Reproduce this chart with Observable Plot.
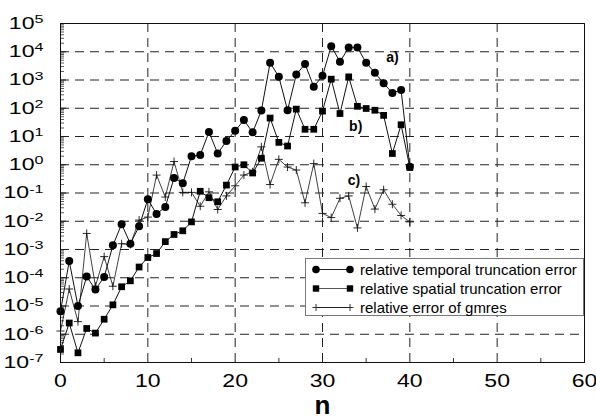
<!DOCTYPE html>
<html>
<head>
<meta charset="utf-8">
<script src="https://cdn.jsdelivr.net/npm/d3@7"></script>
<script src="https://cdn.jsdelivr.net/npm/@observablehq/plot@0.6"></script>
<style>
  body { margin: 0; background: #fff; }
  #wrap { position: relative; width: 596px; height: 419px; font-family: "Liberation Sans", Arial, sans-serif; }
  #legend { position: absolute; left: 305px; top: 258px; width: 279px; height: 58px; background: #fff;
            border: 1px solid #777; box-sizing: border-box; }
  .row { position: absolute; left: 0; height: 19px; display: flex; align-items: center; }
  .row svg { margin-left: 6px; }
  .row span { margin-left: 6px; font-size: 15px; color: #000; white-space: nowrap; }
</style>
</head>
<body>
<div id="wrap">
  <div id="chart"></div>
  <div id="legend"></div>
</div>
<script>
// iteration index
const n = [0,1,2,3,4,5,6,7,8,9,10,11,12,13,14,15,16,17,18,19,20,
           21,22,23,24,25,26,27,28,29,30,31,32,33,34,35,36,37,38,39,40];

// relative temporal truncation error
const temporal = [6.5e-6, 3.9e-4, 1.0e-5, 1.1e-4, 3.8e-5, 1.07e-4, 1.4e-3, 7.9e-3, 1.6e-3, 6.6e-3,
                  0.06, 0.018, 0.032, 0.34, 0.22, 2.0, 2.2, 14.5, 2.5, 6.9,
                  16, 38, 14, 83, 4100, 1300, 85, 1550, 3700, 575,
                  1400, 15800, 4400, 14000, 14000, 4100, 1800, 760, 350, 440, 0.85];

// relative spatial truncation error
const spatial = [2.9e-7, 2.5e-6, 2.2e-7, 1.6e-6, 1.1e-6, 3.4e-6, 1.1e-5, 4.8e-5, 7.8e-5, 2.4e-4,
                 5.2e-4, 7.2e-4, 1.9e-3, 3.4e-3, 4.6e-3, 9.5e-3, 0.115, 0.068, 0.049, 0.19,
                 0.83, 1.0, 0.51, 1.7, 45, 6.2, 4.6, 93, 18, 18,
                 79, 1070, 65, 1290, 117, 98, 85, 56, 2.5, 26, 0.8];

// relative error of gmres
const gmres = [1.3e-6, 4e-5, 2.8e-6, 3.7e-3, 5e-5, 5.6e-4, 5e-5, 1.6e-3, 1.5e-3, 0.011,
               0.014, 0.43, 0.072, 1.3, 0.105, 0.105, 0.034, 0.11, 0.026, 0.079,
               0.18, 0.43, 0.56, 4.3, 0.2, 1.55, 0.83, 0.65, 0.045, 1.1,
               0.019, 0.0135, 0.065, 0.079, 0.0058, 0.17, 0.027, 0.13, 0.04, 0.016, 0.0095];

const seriesNames = ["relative temporal truncation error", "relative spatial truncation error", "relative error of gmres"];

// axis ticks
const xTicks = [0, 10, 20, 30, 40, 50, 60];
const xGrid = [10, 20, 30, 40, 50];
const xMinor = [5, 15, 25, 35, 45, 55];
const yDecades = [1e-7, 1e-6, 1e-5, 1e-4, 1e-3, 1e-2, 1e-1, 1e0, 1e1, 1e2, 1e3, 1e4, 1e5];
const yGrid = [1e-6, 1e-5, 1e-4, 1e-3, 1e-2, 1e-1, 1e0, 1e1, 1e2, 1e3, 1e4];
const yMinor = yDecades.slice(0, -1).flatMap(d => [2,3,4,5,6,7,8,9].map(k => k * d));

const rows = n.map((k, i) => ({n: k, temporal: temporal[i], spatial: spatial[i], gmres: gmres[i]}));

// thin "+" marker drawn with strokes
const crossSymbol = {
  draw(ctx, size) {
    const r = Math.sqrt(size / Math.PI);
    ctx.moveTo(-r, 0); ctx.lineTo(r, 0);
    ctx.moveTo(0, -r); ctx.lineTo(0, r);
  }
};

const W = 596, H = 419, mL = 60, mR = 12, mT = 23, mB = 57;
const innerW = W - mL - mR, innerH = H - mT - mB;
const dash = "9,6";

const svg = Plot.plot({
  width: W, height: H,
  marginLeft: mL, marginRight: mR, marginTop: mT, marginBottom: mB,
  style: {fontFamily: '"Liberation Sans", Arial, sans-serif', background: "white", color: "black"},
  x: {domain: [0, 60]},
  y: {type: "log", domain: [1e-7, 1e5]},
  marks: [
    Plot.ruleY(yGrid, {stroke: "#222", strokeWidth: 1, strokeDasharray: dash}),
    Plot.ruleX(xGrid, {stroke: "#222", strokeWidth: 1, strokeDasharray: dash}),
    // inward ticks along the left and bottom edges
    Plot.ruleY(yMinor, {stroke: "#333", strokeWidth: 0.8, insetRight: innerW - 4}),
    Plot.ruleY(yDecades, {stroke: "#222", strokeWidth: 1, insetRight: innerW - 6}),
    Plot.ruleX(xMinor, {stroke: "#333", strokeWidth: 1, insetTop: innerH - 4}),
    Plot.axisX({ticks: xTicks, tickSize: 0, tickPadding: 11.5, fontSize: 18, label: null}),
    Plot.axisY({ticks: yDecades, tickSize: 0, tickPadding: 17, fontSize: 16.5, label: null,
                tickFormat: d => String(Math.round(Math.log10(d)))}),
    // series
    Plot.line(rows, {x: "n", y: "gmres", stroke: "#111", strokeWidth: 0.8}),
    Plot.dot(rows, {x: "n", y: "gmres", symbol: crossSymbol, r: 4, fill: "none", stroke: "#111", strokeWidth: 0.9}),
    Plot.line(rows, {x: "n", y: "spatial", stroke: "#111", strokeWidth: 1}),
    Plot.dot(rows, {x: "n", y: "spatial", symbol: "square", r: 3.8, fill: "black", stroke: "none"}),
    Plot.line(rows, {x: "n", y: "temporal", stroke: "#111", strokeWidth: 1}),
    Plot.dot(rows, {x: "n", y: "temporal", symbol: "circle", r: 4, fill: "black", stroke: "none"}),
    // curve tags
    Plot.text([{t: "a)", n: 38, v: 6.2e3}, {t: "b)", n: 33.8, v: 22}, {t: "c)", n: 33.6, v: 0.28}],
              {x: "n", y: "v", text: "t", fontSize: 14, fontWeight: "bold"}),
    Plot.text(["n"], {frameAnchor: "bottom", dy: 51.5, fontSize: 26, fontWeight: "bold"}),
    Plot.frame({stroke: "#111", strokeWidth: 1})
  ]
});

// widen tick labels; y labels become 10 with a raised exponent
function stretch(node, k) {
  const x = node.getAttribute("x");
  let tr = node.getAttribute("transform") || "";
  if (x !== null && !isNaN(+x)) { tr += ` translate(${+x},0)`; node.removeAttribute("x"); }
  node.setAttribute("transform", tr + ` scale(${k},1)`);
}
d3.select(svg).selectAll('g[aria-label="y-axis tick label"] text').each(function() {
  const t = d3.select(this);
  const e = t.text();
  t.text("10");
  t.append("tspan").attr("dy", "-0.5em").attr("font-size", 11.5).text(e);
  stretch(this, 1.4);
});
d3.select(svg).selectAll('g[aria-label="x-axis tick label"] text').each(function() { stretch(this, 1.28); });

document.getElementById("chart").appendChild(svg);

// legend box inside the plot area
const legend = d3.select("#legend");
const centers = [10, 29.5, 48.5];
const kinds = ["circle", "square", "cross"];
seriesNames.forEach((name, i) => {
  const row = legend.append("div").attr("class", "row").style("top", (centers[i] - 9.5) + "px");
  const s = row.append("svg").attr("width", 42).attr("height", 19);
  s.append("line").attr("x1", 4).attr("x2", 38).attr("y1", 9.5).attr("y2", 9.5)
    .attr("stroke", i === 1 ? "#555" : "#222").attr("stroke-width", 1);
  [4, 38].forEach(cx => {
    if (kinds[i] === "circle") s.append("circle").attr("cx", cx).attr("cy", 9.5).attr("r", 3.8).attr("fill", "black");
    else if (kinds[i] === "square") s.append("rect").attr("x", cx - 3.2).attr("y", 6.3).attr("width", 6.4).attr("height", 6.4).attr("fill", "black");
    else s.append("path").attr("d", `M${cx - 3.5},9.5H${cx + 3.5}M${cx},6V13`).attr("stroke", "#222").attr("stroke-width", 0.9);
  });
  row.append("span").text(name);
});
</script>
</body>
</html>
